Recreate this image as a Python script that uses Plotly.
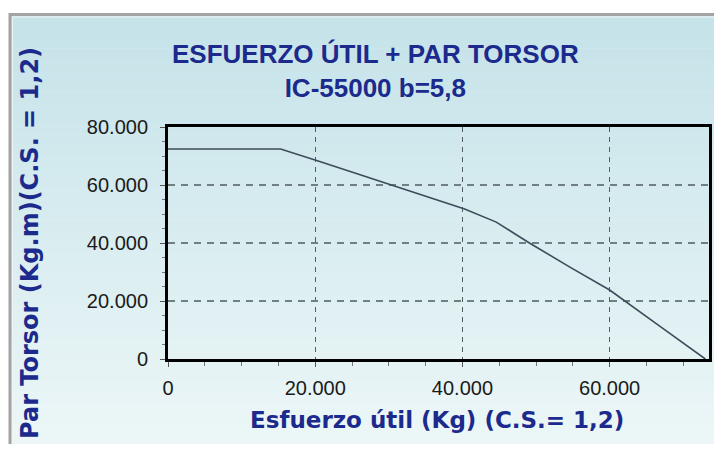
import plotly.graph_objects as go

# ---- data ----
esfuerzo_util = [0, 15300, 20300, 40300, 44600, 49100, 54600, 60000, 66000, 73000]
par_torsor = [72400, 72400, 68400, 51700, 47200, 40000, 31700, 23800, 12800, 0]

x_tickvals = [0, 20000, 40000, 60000]
y_tickvals = [0, 20000, 40000, 60000, 80000]

title_text = "ESFUERZO ÚTIL + PAR TORSOR<br>IC-55000 b=5,8"
x_title = "Esfuerzo útil (Kg) (C.S.= 1,2)"
y_title = "Par Torsor (Kg.m)(C.S. = 1,2)"

# the page body has an 8px margin, so figure coords = screen coords - 8
OFF = 8
W, H = 722, 436
L, R, T, B = 160, 21, 119, 85
PW, PH = W - L - R, H - T - B

def px(x):
    return (x - OFF - L) / PW

def py(y):
    return (H - B - (y - OFF)) / PH

NAVY = "#1b2a8c"

fig = go.Figure()
fig.add_trace(go.Scatter(
    x=esfuerzo_util, y=par_torsor, mode="lines",
    line=dict(color="#3b4d5a", width=1.6), showlegend=False, hoverinfo="skip"))

# background gradient + frame
shapes = []
top, bot = (197, 227, 233), (236, 246, 247)
n = 40
y0p, y1p = 16, 446
for i in range(n):
    t = i / (n - 1)
    c = tuple(int(round(top[k] + (bot[k] - top[k]) * t)) for k in range(3))
    ya = y0p + (y1p - y0p) * i / n
    yb = y0p + (y1p - y0p) * (i + 1) / n + 0.5
    shapes.append(dict(type="rect", xref="paper", yref="paper", layer="below",
                       x0=px(11), x1=px(760), y0=py(ya), y1=py(yb),
                       line=dict(width=0), fillcolor="rgb(%d,%d,%d)" % c))
shapes.append(dict(type="rect", xref="paper", yref="paper", layer="below",
                   x0=px(10), x1=px(770), y0=py(14.5), y1=py(490),
                   line=dict(color="#a3a3a3", width=3), fillcolor="rgba(0,0,0,0)"))
shapes.append(dict(type="rect", xref="paper", yref="paper", layer="below",
                   x0=px(12.5), x1=px(770), y0=py(17), y1=py(490),
                   line=dict(color="#eef5f5", width=1), fillcolor="rgba(0,0,0,0)"))

title_font = dict(family="Liberation Sans, Arial, sans-serif", size=26,
                  color=NAVY, weight="bold")
axis_title_font = dict(family="DejaVu Sans, Verdana, sans-serif", size=23,
                       color=NAVY, weight="bold")

annotations = [
    dict(text=title_text, x=px(375), y=py(71), xref="paper", yref="paper",
         xanchor="center", yanchor="middle", showarrow=False, font=title_font),
    dict(text=x_title, x=px(437), y=py(420), xref="paper", yref="paper",
         xanchor="center", yanchor="middle", showarrow=False, font=axis_title_font),
    dict(text=y_title, x=px(30), y=py(243), xref="paper", yref="paper",
         xanchor="center", yanchor="middle", showarrow=False, textangle=-90,
         font=dict(axis_title_font, size=24)),
]

axis_common = dict(
    showline=True, linecolor="black", linewidth=3, mirror=True,
    ticks="outside", ticklen=5, tickcolor="#555555", tickwidth=1,
    showgrid=True, zeroline=False, tickformat=",d",
    tickfont=dict(family="Liberation Sans, Arial, sans-serif", size=20, color="#1a1a1a"),
)

fig.update_layout(
    width=W, height=H,
    margin=dict(l=L, r=R, t=T, b=B, autoexpand=False),
    paper_bgcolor="white", plot_bgcolor="rgba(0,0,0,0)",
    separators=",.",
    shapes=shapes, annotations=annotations,
    xaxis=dict(range=[0, 73500], tickvals=x_tickvals, ticklabelstandoff=4,
               gridcolor="#555f61", gridwidth=1.2, griddash="5px,5px",
               minor=dict(dtick=5000, ticks="outside", ticklen=4, tickcolor="#777777",
                          showgrid=False),
               **axis_common),
    yaxis=dict(range=[0, 80000], tickvals=y_tickvals, ticklabelstandoff=8,
               gridcolor="#6f7f82", gridwidth=1.8, griddash="7px,6px",
               minor=dict(dtick=5000, ticks="outside", ticklen=3, tickcolor="#777777",
                          showgrid=False),
               **axis_common),
)

fig.write_html("out.html")
